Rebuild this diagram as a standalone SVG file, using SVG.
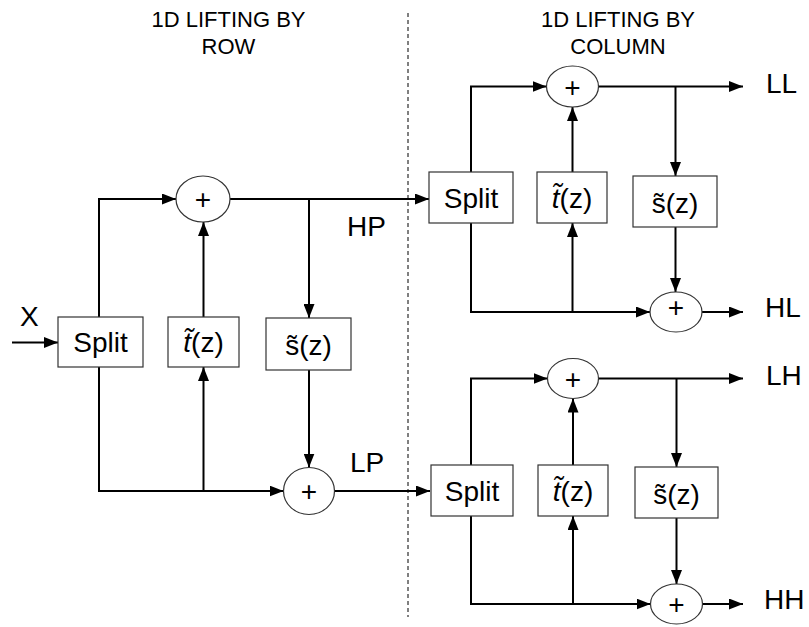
<svg xmlns="http://www.w3.org/2000/svg" width="809" height="627" viewBox="0 0 809 627">
<style>
.box{fill:#fff;stroke:#333;stroke-width:1.2}
.add{fill:#fff;stroke:#333;stroke-width:1.2}
.wa{fill:none;stroke:#000;stroke-width:2;marker-end:url(#ah)}
text{font-family:"Liberation Sans",Arial,sans-serif;fill:#000}
.t{font-size:28px;text-anchor:middle}
.it{font-style:italic}
.lbl{font-size:28px}
.ttl{font-size:22px;text-anchor:middle}
.pl{font-size:28px;text-anchor:middle}
</style>
<defs>
<marker id="ah" markerUnits="userSpaceOnUse" markerWidth="14" markerHeight="11" refX="14" refY="5.5" orient="auto">
<path d="M0,0 L14,5.5 L0,11 z" fill="#000"/>
</marker>
</defs>
<rect width="809" height="627" fill="#fff"/>

<g id="titles">
<text class="ttl" x="228.5" y="27">1D LIFTING BY</text>
<text class="ttl" x="228.5" y="54">ROW</text>
<text class="ttl" x="618" y="27">1D LIFTING BY</text>
<text class="ttl" x="618" y="54">COLUMN</text>
</g>

<line id="divider" x1="408" y1="13" x2="408" y2="617" stroke="#000" stroke-width="1" stroke-dasharray="4,3"/>

<g id="connectors">
<path class="wa" d="M12,342.5 H58"/>
<path class="wa" d="M99,317 V199 H176"/>
<path class="wa" d="M230,199 H429"/>
<path class="wa" d="M309,199 V318"/>
<path class="wa" d="M203.5,317 V222"/>
<path class="wa" d="M99,367 V491 H283.5"/>
<path class="wa" d="M203.5,491 V367"/>
<path class="wa" d="M309,370 V467.5"/>
<path class="wa" d="M334.5,491 H430"/>
<path class="wa" d="M471,172 V86.5 H546.5"/>
<path class="wa" d="M598.5,86.5 H743"/>
<path class="wa" d="M675.5,86.5 V176"/>
<path class="wa" d="M572.5,172 V107"/>
<path class="wa" d="M471,223 V312 H650"/>
<path class="wa" d="M572.5,312 V223"/>
<path class="wa" d="M675.5,227 V292"/>
<path class="wa" d="M702,312 H743"/>
<path class="wa" d="M471,465 V378.5 H547.5"/>
<path class="wa" d="M598.5,378.5 H743"/>
<path class="wa" d="M676.5,378.5 V467"/>
<path class="wa" d="M573,465 V398.5"/>
<path class="wa" d="M471,516 V604 H650.5"/>
<path class="wa" d="M573,604 V516"/>
<path class="wa" d="M676.5,518 V584"/>
<path class="wa" d="M702.5,604 H743"/>
</g>

<g id="row-split"><rect class="box" x="58" y="317" width="85" height="50"/><text class="t" x="100.5" y="352">Split</text></g>
<g id="row-t"><rect class="box" x="168" y="317" width="71" height="50"/><text class="t" x="203.5" y="352"><tspan class="it">t̃</tspan>(z)</text></g>
<g id="row-s"><rect class="box" x="266" y="318" width="85" height="52"/><text class="t" x="308.5" y="355">s̃(z)</text></g>
<g id="row-add1"><ellipse class="add" cx="203" cy="199" rx="27" ry="23"/><text class="pl" x="203" y="209">+</text></g>
<g id="row-add2"><ellipse class="add" cx="309" cy="491" rx="25.5" ry="23.5"/><text class="pl" x="309" y="501">+</text></g>

<g id="col1-split"><rect class="box" x="429" y="172" width="84" height="51"/><text class="t" x="471" y="208">Split</text></g>
<g id="col1-t"><rect class="box" x="537" y="172" width="70" height="51"/><text class="t" x="572" y="207.5"><tspan class="it">t̃</tspan>(z)</text></g>
<g id="col1-s"><rect class="box" x="633" y="176" width="84" height="51"/><text class="t" x="675" y="213">s̃(z)</text></g>
<g id="col1-add1"><ellipse class="add" cx="572.5" cy="86.5" rx="26" ry="20.5"/><text class="pl" x="572.5" y="96.5">+</text></g>
<g id="col1-add2"><ellipse class="add" cx="676" cy="312" rx="26" ry="20"/><text class="pl" x="676" y="317" font-size="15">+</text></g>

<g id="col2-split"><rect class="box" x="431" y="465" width="82" height="51"/><text class="t" x="472" y="501">Split</text></g>
<g id="col2-t"><rect class="box" x="538" y="465" width="70" height="51"/><text class="t" x="573" y="500.5"><tspan class="it">t̃</tspan>(z)</text></g>
<g id="col2-s"><rect class="box" x="635" y="467" width="83" height="51"/><text class="t" x="676.5" y="504">s̃(z)</text></g>
<g id="col2-add1"><ellipse class="add" cx="573" cy="378.5" rx="25.5" ry="20"/><text class="pl" x="573" y="388.5">+</text></g>
<g id="col2-add2"><ellipse class="add" cx="676.5" cy="604" rx="26" ry="20"/><text class="pl" x="676.5" y="614">+</text></g>

<g id="labels">
<text class="lbl" x="20" y="326">X</text>
<text class="lbl" x="347" y="236">HP</text>
<text class="lbl" x="350" y="472">LP</text>
<text class="lbl" x="766" y="93">LL</text>
<text class="lbl" x="765" y="317">HL</text>
<text class="lbl" x="766" y="385">LH</text>
<text class="lbl" x="764" y="609">HH</text>
</g>
</svg>
